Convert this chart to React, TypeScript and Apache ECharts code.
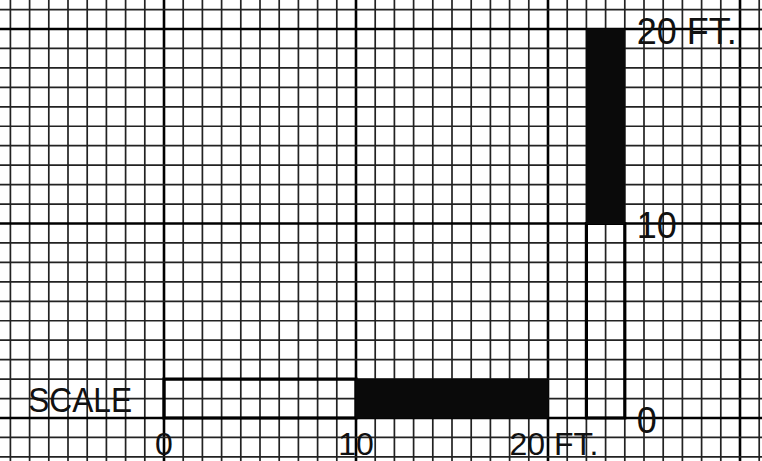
import React, { useEffect, useRef } from 'react';
import * as echarts from 'echarts';

// ---- data ----
const scaleMarks = [0, 10, 20]; // feet
const scaleTickLabels = ['0', '10', '20 FT.'];
const titleLabel = 'SCALE';

// layout constants (px per foot and origin in the picture)
const PX_X = 19.2;
const PX_Y = 19.45;
const X0 = 164;
const Y0 = 418;
const X_MIN = -10;
const X_MAX = 40;
const Y_MIN = -10;
const Y_MAX = 30;
const H_BAR_Y = [0, 2];
const V_BAR_X = [22, 24];
const FONT = '36px "Liberation Sans", Arial, sans-serif';
const FONT_BOTTOM = '32px "Liberation Sans", Arial, sans-serif';

// horizontal bar: orient 0, vertical bar: orient 1
const barSegments = [0, 1].flatMap((orient) =>
  scaleMarks.slice(0, -1).map((m, i) => [m, scaleMarks[i + 1], orient, i])
);
const labelItems = [
  ...scaleMarks.map((m, i) => [m, 0, i]),
  ...scaleMarks.map((m, i) => [m, 1, i]),
  [0, 2, -1],
];
// one-foot graph-paper rulings (value, 0 = vertical line / 1 = horizontal line)
const paperLines: number[][] = [];
for (let v = X_MIN; v <= X_MAX; v++) paperLines.push([v, 0]);
for (let v = Y_MIN; v <= Y_MAX; v++) paperLines.push([v, 1]);

function axis(min: number, max: number) {
  return {
    type: 'value',
    min,
    max,
    interval: 10,
    axisLine: { show: false },
    axisTick: { show: false },
    axisLabel: { show: false },
    splitLine: { show: false },
  };
}

const option: any = {
  animation: false,
  backgroundColor: '#fff',
  grid: {
    left: X0 + X_MIN * PX_X,
    top: Y0 - Y_MAX * PX_Y,
    width: (X_MAX - X_MIN) * PX_X,
    height: (Y_MAX - Y_MIN) * PX_Y,
    containLabel: false,
    outerBoundsMode: 'none',
  },
  xAxis: axis(X_MIN, X_MAX),
  yAxis: axis(Y_MIN, Y_MAX),
  series: [
    {
      type: 'custom',
      data: paperLines,
      clip: false,
      silent: true,
      z: 1,
      renderItem: (params: any, api: any) => {
        const v = api.value(0);
        const o = api.value(1);
        const p0 = o === 0 ? api.coord([v, Y_MIN]) : api.coord([X_MIN, v]);
        const p1 = o === 0 ? api.coord([v, Y_MAX]) : api.coord([X_MAX, v]);
        const major = v % 10 === 0;
        return {
          type: 'line',
          shape: { x1: p0[0], y1: p0[1], x2: p1[0], y2: p1[1] },
          style: { stroke: major ? '#000' : '#222', lineWidth: major ? 2.6 : 1.7 },
        };
      },
    },
    {
      type: 'custom',
      data: barSegments,
      clip: false,
      silent: true,
      z: 2,
      renderItem: (params: any, api: any) => {
        const a = api.value(0);
        const b = api.value(1);
        const o = api.value(2);
        const seg = api.value(3);
        let p0: number[];
        let p1: number[];
        if (o === 0) {
          p0 = api.coord([a, H_BAR_Y[0]]);
          p1 = api.coord([b, H_BAR_Y[1]]);
        } else {
          p0 = api.coord([V_BAR_X[0], a]);
          p1 = api.coord([V_BAR_X[1], b]);
        }
        const x = Math.min(p0[0], p1[0]);
        const y = Math.min(p0[1], p1[1]);
        const w = Math.abs(p1[0] - p0[0]);
        const h = Math.abs(p1[1] - p0[1]);
        const filled = seg % 2 === 1;
        return {
          type: 'rect',
          shape: { x, y, width: w, height: h },
          style: filled
            ? { fill: '#0a0a0a', stroke: '#0a0a0a', lineWidth: 1 }
            : { fill: 'none', stroke: '#000', lineWidth: 3.2 },
          z2: filled ? 2 : 1,
        };
      },
    },
    {
      type: 'custom',
      data: labelItems,
      clip: false,
      silent: true,
      z: 3,
      renderItem: (params: any, api: any) => {
        const v = api.value(0);
        const o = api.value(1);
        const idx = api.value(2);
        if (o === 0) {
          const p = api.coord([v, 0]);
          return {
            type: 'text',
            x: p[0] + (idx === 2 ? 6 : 0),
            y: p[1] + 26,
            style: { text: scaleTickLabels[idx], font: FONT_BOTTOM, fill: '#111', align: 'center', verticalAlign: 'middle' },
          };
        }
        if (o === 1) {
          const p = api.coord([V_BAR_X[1], v]);
          return {
            type: 'text',
            x: p[0] + 12,
            y: p[1] + 2,
            style: { text: scaleTickLabels[idx], font: FONT, fill: '#111', align: 'left', verticalAlign: 'middle' },
          };
        }
        const p = api.coord([v, (H_BAR_Y[0] + H_BAR_Y[1]) / 2]);
        return {
          type: 'text',
          x: p[0] - 32,
          y: p[1] + 1,
          scaleX: 0.88,
          style: { text: titleLabel, font: FONT, fill: '#111', align: 'right', verticalAlign: 'middle' },
        };
      },
    },
  ],
};

export default function App() {
  const ref = useRef<HTMLDivElement>(null);
  useEffect(() => {
    const chart = echarts.init(ref.current!, null, { renderer: 'svg' });
    chart.setOption(option);
    return () => chart.dispose();
  }, []);
  return (
    <div
      ref={ref}
      style={{ position: 'fixed', left: 0, top: 0, width: 762, height: 461, background: '#fff' }}
    />
  );
}
